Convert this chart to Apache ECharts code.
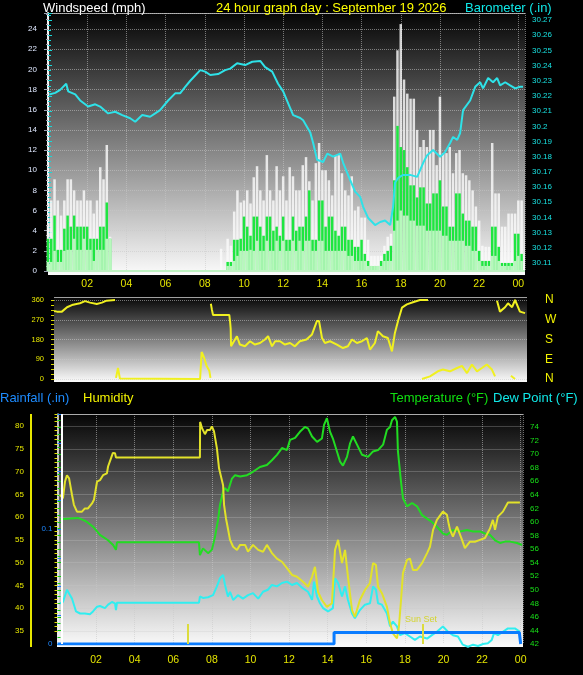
<!DOCTYPE html>
<html>
<head>
<meta charset="utf-8">
<script src="https://cdn.jsdelivr.net/npm/echarts@6.0.0/dist/echarts.min.js"></script>
<style>
html, body { margin: 0; padding: 0; background: #000; }
#chart { width: 583px; height: 675px; }
</style>
</head>
<body>
<div id="chart"></div>
<script>
// wind speed (mph), one sample every 10 minutes from midnight
const windGust = [
  4.5, 7, 9.1, 7, 5.5, 7, 9.1, 9.1, 8, 7, 7, 8,
  7, 7, 5.7, 7, 10.3, 9.1, 12.5, 3.4, 0, 0, 0, 0,
  0, 0, 0, 0, 0, 0, 0, 0, 0, 0, 0, 0,
  0, 0, 0, 0, 0, 0, 0, 0, 0, 0, 0, 0,
  0, 0, 0, 0, 0, 2.2, 0, 3.2, 2.5, 5.9, 8, 6.8,
  7, 8, 6.7, 9.3, 10.4, 8, 7, 11.5, 8, 7, 10.4, 8,
  9.4, 7, 10.3, 9.4, 8, 8, 10.5, 11.3, 8.9, 7, 10.7, 12.7,
  10, 10, 9, 7.5, 11.5, 11.5, 9.7, 8, 7.5, 9.4, 6, 6.4,
  5.3, 5.3, 3.1, 1.5, 1.5, 1.5, 1.5, 2.5, 3.4, 3.7, 17.3, 21.9,
  24.5, 19, 17.6, 17.1, 17.1, 14, 12.3, 13, 12.3, 14, 14, 10.5,
  17.3, 11.7, 11.7, 12.3, 9.7, 11.7, 12, 9.7, 9.5, 9, 8, 6.4,
  5, 2.5, 2.4, 2.4, 12.7, 7.7, 7.7, 4.4, 4.4, 5.7, 5.7, 5.7,
  7, 7
];
const windAvg = [
  3.2, 3.2, 5.5, 2.1, 2.1, 4.2, 5.5, 4.4, 5.5, 4.4, 4.4, 4.4,
  4.4, 3.2, 3.2, 3.2, 4.4, 4.4, 6.8, 3.2, 0, 0, 0, 0,
  0, 0, 0, 0, 0, 0, 0, 0, 0, 0, 0, 0,
  0, 0, 0, 0, 0, 0, 0, 0, 0, 0, 0, 0,
  0, 0, 0, 0, 0, 0, 0, 0.9, 0.9, 3.1, 3.1, 3.2,
  5.4, 4.4, 3.5, 5.4, 5.4, 4.4, 3.5, 5.4, 5.4, 4, 4.4, 3.5,
  5.4, 3.1, 3.1, 5.4, 4, 4.4, 4.4, 5.4, 8, 3.1, 3.1, 7,
  7, 4.4, 5.4, 5.4, 4, 3.5, 4.4, 4.4, 3.1, 3.1, 2.4, 2.4,
  3.1, 1.7, 1, 0.5, 0.5, 0.5, 1, 1.7, 2, 2.5, 9, 14.4,
  12.3, 12, 10.3, 8.5, 8.5, 7.3, 8.3, 8.3, 6.7, 6.7, 7.7, 7.7,
  9, 6.4, 6.4, 4.4, 4.4, 7.7, 7.7, 5.7, 5, 5, 4.4, 4.4,
  2, 1, 1, 1, 4.4, 4.4, 2.4, 0.8, 0.8, 0.8, 0.8, 3.7,
  3.7, 1.7
];
const windLow = [
  0.9, 0.9, 2, 0.9, 0.9, 2, 2.1, 2.1, 3.2, 2.1, 2.1, 3.2,
  2.1, 2.1, 1, 2.1, 2.1, 2.1, 3.2, 3.2, 0, 0, 0, 0,
  0, 0, 0, 0, 0, 0, 0, 0, 0, 0, 0, 0,
  0, 0, 0, 0, 0, 0, 0, 0, 0, 0, 0, 0,
  0, 0, 0, 0, 0, 0, 0, 0.5, 0.5, 1, 1.5, 2,
  2, 2, 2.1, 2, 3, 2, 2, 3, 2, 2, 3, 2,
  3, 2, 2, 3, 2, 3, 2, 3, 3, 2, 2, 3,
  3, 2, 2, 2, 2, 2, 2, 2, 1.5, 1.5, 1, 1,
  1, 1, 0.5, 0.5, 0.5, 0.5, 0.5, 1, 1, 1, 4, 5,
  6, 5.5, 5.5, 5, 5, 4.5, 4.5, 4.5, 4, 4, 4, 4,
  4, 3.5, 3.5, 3, 3, 3, 3, 3, 2.5, 2.5, 2, 2,
  1, 0.5, 0.5, 0.5, 1.5, 1.5, 1, 0.5, 0.5, 0.5, 0.5, 1,
  1.5, 1
];

// barometer (.in), hours from midnight
const baroTime = [
  0.06, 0.37, 0.62, 0.93, 1.03, 1.39, 1.64, 2.05, 2.41, 2.66, 3.07, 3.43, 3.79, 4.19, 4.45,
  4.81, 5.21, 5.47, 5.72, 6.13, 6.49, 6.74, 7.0, 7.26, 7.77, 8.02, 8.28, 8.68, 9.04, 9.3,
  9.65, 10.06, 10.42, 10.83, 11.08, 11.44, 11.74, 12.0, 12.26, 12.51, 12.87, 13.02, 13.38, 13.53, 13.73,
  14.04, 14.25, 14.55, 14.91, 15.06, 15.42, 15.67, 15.93, 16.08, 16.34, 16.69, 16.95, 17.2, 17.46, 17.61,
  17.71, 17.87, 18.12, 18.48, 18.84, 19.14, 19.35, 19.65, 20.01, 20.26, 20.52, 20.67, 20.88, 21.03, 21.18,
  21.54, 21.8, 22.05, 22.2, 22.46, 22.71, 22.92, 23.07, 23.33, 23.58, 23.84, 24.09, 24.24
];
const baroValue = [
  30.221, 30.222, 30.224, 30.228, 30.223, 30.221, 30.217, 30.213, 30.2145, 30.213, 30.2085, 30.2096, 30.2074, 30.2053, 30.203,
  30.2074, 30.2063, 30.2085, 30.2107, 30.217, 30.2217, 30.2217, 30.226, 30.230, 30.237, 30.236, 30.2338, 30.2344, 30.237, 30.238,
  30.2415, 30.2403, 30.2425, 30.243, 30.239, 30.236, 30.228, 30.223, 30.215, 30.2074, 30.2055, 30.204, 30.196, 30.189, 30.178,
  30.1765, 30.182, 30.180, 30.182, 30.176, 30.1646, 30.157, 30.1535, 30.147, 30.1396, 30.135, 30.137, 30.138, 30.135, 30.147,
  30.163, 30.166, 30.168, 30.168, 30.1667, 30.1758, 30.181, 30.1844, 30.180, 30.183, 30.189, 30.193, 30.191, 30.1956, 30.2107,
  30.217, 30.226, 30.229, 30.225, 30.2318, 30.229, 30.2318, 30.227, 30.229, 30.227, 30.225, 30.226, 30.226
];

// wind direction (deg); null starts a new trace
const dirTime = [
  0.32, 0.47, 0.72, 0.98, 1.23, 1.64, 1.9, 2.15, 2.5, 2.76, 3.0, 3.43, null,
  3.48, 3.58, 3.68, 3.72, 7.77, 7.85, 7.97, 8.1, 8.24, 8.3, null,
  8.32, 8.37, 8.43, 9.26, 9.3, 9.33, 9.35, 9.45, 9.65, 9.8, 10.06, 10.32, 10.57, 10.83, 11.08,
  11.24, 11.44, 11.6, 11.85, 12.1, 12.36, 12.61, 12.86, 13.2, 13.48, 13.73, 13.84, 13.99, 14.14, 14.4,
  14.75, 15.06, 15.31, 15.52, 15.77, 16.03, 16.28, 16.44, 16.69, 16.84, 17.1, 17.35, 17.56, 17.71, 17.87,
  18.07, 18.32, 18.63, 18.99, 19.4, null,
  19.09, 19.5, 19.9, 20.16, 20.52, 20.88, 21.13, 21.39, 21.64, 21.9, 22.15, 22.4, 22.66, 22.82, null,
  22.92, 23.07, 23.33, 23.48, 23.69, 23.84, 24.09, 24.35, null,
  23.63, 23.84
];
const dirValue = [
  310, 307, 307, 327, 337, 345, 355, 348, 342, 348, 357, 360, null,
  5, 50, 2, 0, 0, 123, 98, 60, 38, 5, null,
  343, 317, 292, 292, 261, 230, 149, 157, 195, 157, 149, 172, 157, 164, 180,
  195, 149, 172, 172, 157, 164, 149, 172, 180, 203, 264, 264, 187, 164, 172,
  157, 141, 149, 180, 164, 172, 187, 134, 164, 218, 195, 187, 126, 210, 264,
  325, 340, 350, 360, 360, null,
  0, 12, 35, 43, 35, 50, 60, 27, 66, 35, 50, 66, 43, 12, null,
  357, 307, 327, 345, 327, 360, 307, 300, null,
  15, 0
];

// temperature (F)
const tempTime = [
  0.13, 0.65, 1.06, 1.32, 1.53, 1.84, 2.05, 2.2, 2.62, 2.88, 3.03, 3.08, 7.33, 7.38, 7.54,
  7.8, 8.0, 8.16, 8.32, 8.42, 8.58, 8.68, 8.83, 9.04, 9.2, 9.46, 9.82, 10.13, 10.49, 10.85,
  11.11, 11.37, 11.63, 11.89, 12.05, 12.31, 12.56, 12.82, 12.98, 13.19, 13.45, 13.7, 13.81, 13.96, 14.12,
  14.27, 14.48, 14.64, 14.79, 15.0, 15.16, 15.31, 15.52, 15.78, 16.09, 16.35, 16.61, 16.87, 17.07, 17.23,
  17.33, 17.49, 17.59, 17.64, 17.8, 17.9, 18.11, 18.37, 18.63, 18.89, 19.15, 19.4, 19.66, 19.97, 20.18,
  20.49, 20.85, 21.22, 21.53, 21.89, 22.15, 22.41, 22.67, 22.93, 23.19, 23.45, 23.81, 24.07
];
const tempValue = [
  60.4, 60.5, 60.6, 60.3, 60.0, 59.3, 58.6, 58.1, 57.3, 56.6, 55.9, 57.0, 57.0, 55.1, 56.1,
  55.4, 55.9, 57.8, 60.3, 62.5, 64.5, 65.0, 64.5, 66.4, 66.9, 66.7, 66.9, 67.4, 68.1, 68.4,
  69.1, 69.9, 70.9, 70.6, 72.1, 72.4, 73.3, 74.0, 73.8, 72.6, 71.8, 72.3, 74.3, 75.3, 73.3,
  72.3, 70.4, 68.9, 68.3, 69.6, 71.6, 72.6, 71.4, 69.9, 69.6, 70.4, 70.6, 71.4, 73.6, 74.0,
  75.0, 75.5, 74.8, 70.4, 65.9, 63.5, 62.3, 62.8, 62.3, 61.0, 60.5, 60.0, 59.3, 58.3, 58.1,
  58.8, 58.6, 58.8, 58.6, 58.6, 58.3, 58.1, 57.3, 56.9, 57.1, 57.1, 56.9, 56.6
];

// humidity (%)
const humTime = [
  0.13, 0.28, 0.39, 0.49, 0.6, 0.75, 0.85, 1.01, 1.27, 1.42, 1.58, 1.79, 1.89, 2.05, 2.2,
  2.36, 2.56, 2.62, 2.77, 2.87, 2.98, 3.03, 7.38, 7.39, 7.49, 7.64, 7.75, 7.9, 8.0, 8.11,
  8.26, 8.37, 8.58, 8.63, 8.73, 8.83, 8.94, 9.1, 9.3, 9.46, 9.72, 9.87, 10.13, 10.4, 10.65,
  10.85, 11.11, 11.37, 11.63, 11.89, 12.15, 12.41, 12.72, 12.98, 13.19, 13.34, 13.5, 13.7, 13.96, 14.22,
  14.38, 14.54, 14.74, 14.9, 15.05, 15.26, 15.41, 15.67, 15.93, 16.19, 16.35, 16.5, 16.61, 16.81, 17.07,
  17.23, 17.38, 17.59, 17.69, 17.8, 17.9, 18.11, 18.26, 18.42, 18.63, 18.89, 19.15, 19.3, 19.46, 19.66,
  19.97, 20.18, 20.28, 20.34, 20.49, 20.7, 20.96, 21.11, 21.37, 21.63, 21.89, 22.15, 22.41, 22.56, 22.67,
  22.82, 23.08, 23.34, 23.96
];
const humValue = [
  64.9, 64.1, 67.8, 69.2, 68.5, 64.9, 62.7, 61.2, 61.2, 61.9, 61.9, 63.0, 63.8, 67.8, 68.1,
  69.2, 69.6, 71.1, 72.9, 74.1, 74.0, 73.1, 73.1, 80.9, 79.5, 78.2, 79.1, 79.1, 79.9, 78.8,
  75.1, 70.7, 67.0, 62.7, 59.7, 57.5, 55.0, 53.5, 52.8, 53.9, 53.9, 52.4, 53.9, 52.8, 52.4,
  53.9, 52.1, 50.9, 50.2, 48.8, 47.3, 46.9, 45.8, 44.7, 46.9, 49.1, 43.6, 41.8, 40.3, 41.1,
  52.8, 55.0, 49.9, 52.8, 46.9, 39.6, 38.1, 41.8, 44.0, 45.5, 49.9, 49.5, 44.7, 43.3, 40.3,
  36.7, 34.5, 33.4, 35.9, 41.8, 47.7, 50.6, 50.9, 48.4, 48.4, 49.9, 52.1, 53.5, 57.2, 59.4,
  61.2, 60.5, 58.3, 57.2, 55.7, 57.9, 55.0, 53.2, 54.6, 54.6, 55.0, 55.4, 57.5, 59.4, 57.2,
  60.1, 61.2, 63.2, 63.2
];

// dew point (F)
const dewTime = [
  0.13, 0.28, 0.49, 0.54, 0.75, 0.96, 1.17, 1.42, 1.68, 1.84, 2.05, 2.2, 2.46, 2.62, 2.82,
  2.98, 3.03, 3.08, 7.33, 7.38, 7.54, 7.8, 8.06, 8.26, 8.42, 8.58, 8.68, 8.83, 8.94, 9.1,
  9.35, 9.61, 9.87, 10.13, 10.4, 10.65, 10.9, 11.11, 11.37, 11.63, 11.89, 12.15, 12.41, 12.72, 12.98,
  13.19, 13.29, 13.45, 13.6, 13.76, 14.02, 14.27, 14.38, 14.54, 14.74, 14.9, 15.05, 15.26, 15.41, 15.67,
  15.93, 16.19, 16.35, 16.5, 16.61, 16.81, 17.07, 17.23, 17.38, 17.59, 17.75, 18.0, 18.26, 18.52, 18.78,
  19.15, 19.4, 19.66, 19.97, 20.23, 20.49, 20.75, 21.0, 21.27, 21.53, 21.79, 22.05, 22.3, 22.5, 22.62,
  22.82, 23.08, 23.34, 23.7, 23.96
];
const dewValue = [
  48.0, 48.2, 50.0, 50.2, 48.7, 46.8, 46.5, 46.5, 46.4, 46.8, 47.5, 47.6, 47.3, 47.8, 48.2,
  48.0, 47.0, 48.1, 48.1, 49.0, 48.8, 48.9, 49.2, 50.5, 51.7, 52.2, 50.7, 49.0, 49.7, 48.5,
  49.2, 48.7, 49.2, 49.5, 48.7, 49.7, 50.0, 50.7, 50.5, 51.0, 51.2, 50.7, 51.0, 50.2, 49.7,
  48.5, 51.2, 49.0, 48.0, 47.3, 46.8, 47.3, 51.7, 51.0, 49.0, 50.5, 48.5, 46.5, 45.8, 47.0,
  47.8, 48.0, 50.5, 50.0, 48.0, 47.8, 46.5, 44.6, 45.3, 44.6, 43.3, 43.6, 43.1, 42.6, 43.1,
  42.8, 43.3, 43.8, 44.6, 43.8, 43.3, 43.1, 41.9, 41.6, 41.9, 41.7, 42.0, 42.1, 42.6, 43.6,
  43.3, 43.8, 44.3, 44.3, 43.8
];

// rainfall (.in), value holds until the next time
const rainTime = [0, 14.33, 23.93, 24.0];
const rainValue = [0, 0.01, 0.01, 0];

const sunRise = 6.77;
const sunSet = 18.94;
const dayStart = 0.23;

const pairs = (ts, vs) => ts.map((t, i) => t === null ? ['-', '-'] : [t, vs[i]]);
const slots = vs => vs.map((v, i) => [i / 6, v]);
const hourLabel = v => (v <= 0 || v > 24.01) ? '' : String(Math.round(v) % 24).padStart(2, '0');

const font = 'Liberation Sans';
const grad = () => new echarts.graphic.LinearGradient(0, 0, 0, 1, [
  { offset: 0, color: '#050505' },
  { offset: 1, color: '#fbfbfb' }
]);
const dotted = { show: true, lineStyle: { color: 'rgba(200,200,200,0.55)', type: 'dotted', width: 1 } };
const noAxis = { axisLine: { show: false }, axisTick: { show: false }, axisLabel: { show: false }, splitLine: { show: false } };

const chart = echarts.init(document.getElementById('chart'));
chart.setOption({
  animation: false,
  backgroundColor: '#000',
  textStyle: { fontFamily: font },
  grid: [
    { left: 48, top: 13, width: 477, height: 258 },      // wind speed
    { left: 48, top: 13, width: 477, height: 250 },      // barometer
    { left: 54, top: 300, width: 473, height: 79 },      // wind direction
    { left: 57.5, top: 414, width: 465.5, height: 230 }, // temperature / dew point
    { left: 57.5, top: 414, width: 465.5, height: 217 }, // humidity
    { left: 57.5, top: 414, width: 465.5, height: 230 }  // rainfall
  ],
  xAxis: [
    { type: 'value', gridIndex: 0, min: 0, max: 24.34, interval: 2,
      axisLine: { show: false }, axisTick: { show: false },
      axisLabel: { color: '#e4e400', fontSize: 10.5, margin: 8, formatter: hourLabel },
      splitLine: dotted },
    Object.assign({ type: 'value', gridIndex: 1, min: 0, max: 24.34 }, noAxis),
    Object.assign({ type: 'value', gridIndex: 2, min: 0.316, max: 24.45 }, noAxis),
    { type: 'value', gridIndex: 3, min: 0, max: 24.12, interval: 2,
      axisLine: { show: false }, axisTick: { show: false },
      axisLabel: { color: '#e4e400', fontSize: 10.5, margin: 11, formatter: hourLabel },
      splitLine: dotted },
    Object.assign({ type: 'value', gridIndex: 4, min: 0, max: 24.12 }, noAxis),
    Object.assign({ type: 'value', gridIndex: 5, min: 0, max: 24.12 }, noAxis)
  ],
  yAxis: [
    { type: 'value', gridIndex: 0, min: 0, max: 25.6, interval: 2, position: 'left',
      axisLine: { show: true, lineStyle: { color: '#f4f4f4', width: 2 } },
      axisTick: { show: true, length: 4, lineStyle: { color: '#9aa0b0' } },
      minorTick: { show: true, splitNumber: 4, length: 2, lineStyle: { color: '#9aa0b0' } },
      axisLabel: { color: '#dfe8ff', fontSize: 8, margin: 11, formatter: v => v > 24.5 ? '' : String(v) },
      splitLine: dotted },
    { type: 'value', gridIndex: 1, min: 30.11, max: 30.2746, interval: 0.01, position: 'right',
      axisLine: { show: false },
      axisTick: { show: true, length: 4, lineStyle: { color: '#18d8d8' } },
      minorTick: { show: true, splitNumber: 3, length: 3, lineStyle: { color: '#18d8d8' } },
      axisLabel: { color: '#18e0e0', fontSize: 8, margin: 7, formatter: v => v > 30.272 ? '' : String(+v.toFixed(2)) },
      splitLine: { show: false } },
    { type: 'value', gridIndex: 2, min: 0, max: 360, interval: 90, position: 'left',
      axisLine: { show: false },
      axisTick: { show: true, length: 3, lineStyle: { color: '#d8d800' } },
      minorTick: { show: true, splitNumber: 4, length: 3, lineStyle: { color: '#d8d800' } },
      axisLabel: { color: '#e8e800', fontSize: 7.5, margin: 10 },
      splitLine: dotted },
    { type: 'value', gridIndex: 2, min: 0, max: 360, interval: 90, position: 'right',
      axisLine: { show: false }, axisTick: { show: false }, splitLine: { show: false },
      axisLabel: { color: '#f2f200', fontSize: 12, margin: 18,
        formatter: v => ({ 0: 'N', 90: 'E', 180: 'S', 270: 'W', 360: 'N' })[v] } },
    { type: 'value', gridIndex: 3, min: 42, max: 75.92, interval: 2, position: 'right',
      axisLine: { show: true, lineStyle: { color: '#f0f0f0', width: 1.5 } },
      axisTick: { show: true, length: 4, lineStyle: { color: '#10d010' } },
      minorTick: { show: true, splitNumber: 2, length: 3, lineStyle: { color: '#10d010' } },
      axisLabel: { color: '#18e018', fontSize: 8, margin: 7, formatter: v => v > 74.5 ? '' : String(v) },
      splitLine: { show: false } },
    { type: 'value', gridIndex: 4, min: 35, max: 82.63, interval: 5, position: 'left', offset: 26.5,
      axisLine: { show: false },
      axisTick: { show: true, length: 3, lineStyle: { color: '#e0e000' } },
      minorTick: { show: true, splitNumber: 5, length: 3, lineStyle: { color: '#e0e000' } },
      axisLabel: { color: '#e8e800', fontSize: 8, margin: 7, formatter: v => v > 80.5 ? '' : String(v) },
      splitLine: dotted },
    { type: 'value', gridIndex: 5, min: 0, max: 0.2, interval: 0.1, position: 'left',
      axisLine: { show: false },
      axisTick: { show: true, inside: true, length: 4, lineStyle: { color: '#1e7fff' } },
      minorTick: { show: true, splitNumber: 4, length: 4, lineStyle: { color: '#1e7fff' } },
      axisLabel: { color: '#1e88ff', fontSize: 8, margin: 5, formatter: v => v > 0.15 ? '' : String(+v.toFixed(2)) },
      splitLine: { show: false } }
  ],
  graphic: [
    { type: 'rect', z: -10, silent: true, shape: { x: 48, y: 13, width: 477, height: 262 }, style: { fill: grad() } },
    { type: 'rect', z: -10, silent: true, shape: { x: 54, y: 297, width: 473, height: 85 }, style: { fill: grad() } },
    { type: 'rect', z: -10, silent: true, shape: { x: 57, y: 414, width: 466, height: 233 }, style: { fill: grad() } },
    { type: 'line', silent: true, shape: { x1: 48, y1: 13.5, x2: 525, y2: 13.5 }, style: { stroke: '#a0a0a0', lineWidth: 1 } },
    { type: 'line', silent: true, shape: { x1: 54, y1: 297.5, x2: 527, y2: 297.5 }, style: { stroke: '#a0a0a0', lineWidth: 1 } },
    { type: 'line', silent: true, shape: { x1: 57, y1: 414.5, x2: 523, y2: 414.5 }, style: { stroke: '#a0a0a0', lineWidth: 1 } },
    { type: 'line', silent: true, shape: { x1: 31, y1: 414, x2: 31, y2: 647 }, style: { stroke: '#e6e600', lineWidth: 2 } },
    { type: 'text', x: 43, y: 8, style: { text: 'Windspeed (mph)', fill: '#ffffff', fontSize: 13, fontFamily: font, verticalAlign: 'middle' } },
    { type: 'text', x: 216, y: 8, style: { text: '24 hour graph day : September 19 2026', fill: '#ffff00', fontSize: 13, fontFamily: font, verticalAlign: 'middle' } },
    { type: 'text', x: 465, y: 8, style: { text: 'Barometer (.in)', fill: '#10e8e8', fontSize: 13, fontFamily: font, verticalAlign: 'middle' } },
    { type: 'text', x: 0, y: 398, style: { text: 'Rainfall (.in)', fill: '#1e8cff', fontSize: 13, fontFamily: font, verticalAlign: 'middle' } },
    { type: 'text', x: 83, y: 398, style: { text: 'Humidity', fill: '#f2f200', fontSize: 13, fontFamily: font, verticalAlign: 'middle' } },
    { type: 'text', x: 390, y: 398, style: { text: 'Temperature (°F)', fill: '#10e010', fontSize: 13, fontFamily: font, verticalAlign: 'middle' } },
    { type: 'text', x: 493, y: 398, style: { text: 'Dew Point (°F)', fill: '#10e8e8', fontSize: 13, fontFamily: font, verticalAlign: 'middle' } }
  ],
  series: [
    { name: 'Gust', type: 'bar', xAxisIndex: 0, yAxisIndex: 0, barWidth: 2.5, barGap: '-100%',
      itemStyle: { color: 'rgba(250,250,250,0.82)' }, data: slots(windGust) },
    { name: 'Wind', type: 'bar', xAxisIndex: 0, yAxisIndex: 0, barWidth: 2.5, barGap: '-100%',
      itemStyle: { color: '#1ee640' }, data: slots(windAvg) },
    { name: 'Low', type: 'bar', xAxisIndex: 0, yAxisIndex: 0, barWidth: 2.5, barGap: '-100%',
      itemStyle: { color: 'rgba(205,250,205,0.88)' }, data: slots(windLow),
      markLine: { silent: true, symbol: 'none', label: { show: false },
        lineStyle: { color: '#bff2c2', width: 2, type: 'solid' }, data: [{ yAxis: 0 }] } },
    { name: 'Barometer', type: 'line', xAxisIndex: 1, yAxisIndex: 1, symbol: 'none',
      lineStyle: { color: '#2ee2e8', width: 2 }, data: pairs(baroTime, baroValue) },
    { name: 'Direction', type: 'line', xAxisIndex: 2, yAxisIndex: 2, symbol: 'none', connectNulls: false,
      lineStyle: { color: '#f0f020', width: 2 }, data: pairs(dirTime, dirValue) },
    { name: 'Temperature', type: 'line', xAxisIndex: 3, yAxisIndex: 4, symbol: 'none', clip: false,
      lineStyle: { color: '#22dc22', width: 2 }, data: pairs(tempTime, tempValue),
      markLine: { silent: true, symbol: 'none', label: { show: false },
        lineStyle: { color: '#dcdc3c', width: 2, type: 'solid' },
        data: [
          [{ coord: [sunRise, 42] }, { coord: [sunRise, 44.95] }],
          [{ coord: [sunSet, 42] }, { coord: [sunSet, 44.95] }]
        ] } },
    { name: 'Dew Point', type: 'line', xAxisIndex: 3, yAxisIndex: 4, symbol: 'none', clip: false,
      lineStyle: { color: '#30eef0', width: 2 }, data: pairs(dewTime, dewValue),
      markPoint: { silent: true, symbol: 'rect', symbolSize: 1, itemStyle: { color: 'rgba(0,0,0,0)' },
        label: { show: true, position: 'inside', formatter: 'Sun Set', color: '#d4d430', fontSize: 9, fontFamily: font },
        data: [{ coord: [sunSet - 0.1, 45.6] }] } },
    { name: 'Humidity', type: 'line', xAxisIndex: 4, yAxisIndex: 5, symbol: 'none', clip: false,
      lineStyle: { color: '#e2e22a', width: 2 }, data: pairs(humTime, humValue) },
    { name: 'Rainfall', type: 'line', xAxisIndex: 5, yAxisIndex: 6, symbol: 'none', step: 'end',
      lineStyle: { color: '#0a7cff', width: 3 }, data: pairs(rainTime, rainValue),
      markLine: { silent: true, symbol: 'none', label: { show: false },
        lineStyle: { color: '#ffffff', width: 2, type: 'solid' }, data: [{ xAxis: dayStart }] } }
  ]
});
</script>
</body>
</html>
